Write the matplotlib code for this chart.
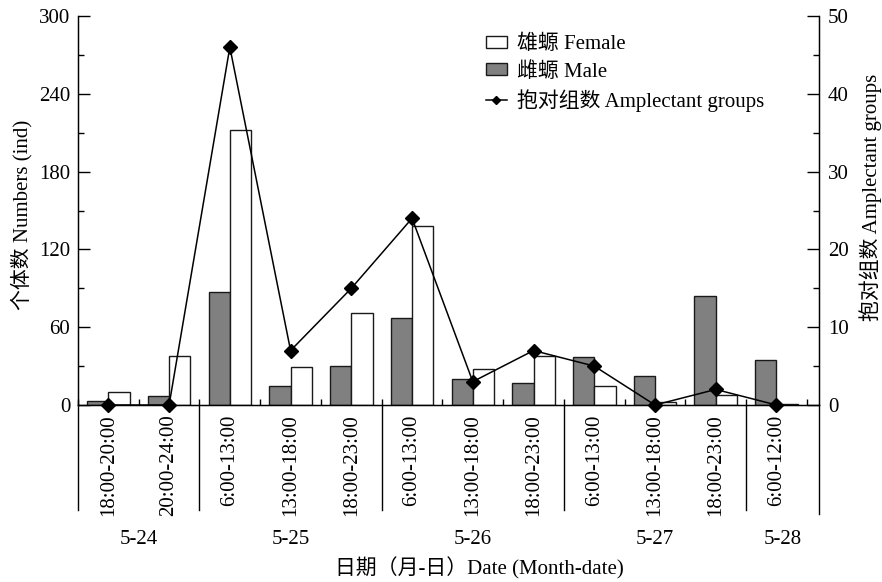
import matplotlib
matplotlib.use('Agg')
import matplotlib.pyplot as plt
from matplotlib.ticker import MultipleLocator, FixedLocator
from matplotlib.patches import Patch
from matplotlib.lines import Line2D
import numpy as np

# ---------------- data ----------------
categories = ['18:00-20:00', '20:00-24:00',
              '6:00-13:00', '13:00-18:00', '18:00-23:00',
              '6:00-13:00', '13:00-18:00', '18:00-23:00',
              '6:00-13:00', '13:00-18:00', '18:00-23:00',
              '6:00-12:00']
dates = ['5-24', '5-25', '5-26', '5-27', '5-28']
day_sizes = [2, 3, 3, 3, 1]
male = [3, 7, 87, 15, 30, 67, 20, 17, 37, 22, 84, 35]          # grey bars
female = [10, 38, 212, 29, 71, 138, 28, 38, 15, 2, 8, 1]        # white bars
amplectant = [0, 0, 46, 7, 15, 24, 3, 7, 5, 0, 2, 0]            # line (right axis)

label_female = '雄螈 Female'
label_male = '雌螈 Male'
label_amp = '抱对组数 Amplectant groups'
ylabel_left = '个体数 Numbers (ind)'
ylabel_right = '抱对组数 Amplectant groups'
xlabel = '日期（月-日）Date (Month-date)'

# ---------------- style ----------------
plt.rcParams['font.family'] = ['Liberation Serif', 'Noto Sans CJK SC']
plt.rcParams['font.size'] = 15
GREY = '#808080'
EDGE = '#1a1a1a'

W, H = 882, 582
fig = plt.figure(figsize=(W / 100, H / 100), dpi=100)
ax = fig.add_axes([78 / W, (H - 405) / H, (819 - 78) / W, (405 - 16) / H])

x = np.arange(len(categories))
bw = 0.35
ax.bar(x - bw / 2, male, bw, color=GREY, edgecolor=EDGE, linewidth=1, zorder=2)
ax.bar(x + bw / 2, female, bw, color='white', edgecolor=EDGE, linewidth=1, zorder=2)

xmax = len(categories) - 0.5 + 0.2
ax.set_xlim(-0.5, xmax)
ax.set_ylim(0, 300)
ax.yaxis.set_major_locator(MultipleLocator(60))
ax.yaxis.set_minor_locator(MultipleLocator(30))
ax.tick_params(axis='y', which='major', direction='in', length=8.6, width=1, pad=5.5)
ax.tick_params(axis='y', which='minor', direction='in', length=4.5, width=1)

# x ticks: labels at category centers (no tick), boundary ticks inward
ax.xaxis.set_major_locator(FixedLocator(x))
ax.set_xticklabels(categories, rotation=90, va='top', ha='center')
ax.tick_params(axis='x', which='major', length=0, pad=7)
ax.xaxis.set_minor_locator(FixedLocator(np.arange(len(categories) + 1) - 0.5))
ax.tick_params(axis='x', which='minor', direction='in', length=4.3, width=1)

ax.spines['top'].set_visible(False)
for s in ['left', 'bottom', 'right']:
    ax.spines[s].set_linewidth(1)

ax.set_ylabel(ylabel_left)
ax.yaxis.set_label_coords(-0.062, 0.488)

# day separators extending below the axis
trans = ax.get_xaxis_transform()
starts = np.concatenate([[0], np.cumsum(day_sizes)[:-1]]) - 0.5
ends = starts + np.array(day_sizes)
ends[-1] = xmax
for b in starts:
    ax.plot([b, b], [0, -0.27], transform=trans, clip_on=False, color='black', lw=1)
ax.plot([1, 1], [0, -0.28], transform=ax.transAxes, clip_on=False, color='black', lw=1)
for d, s, e in zip(dates, starts, ends):
    ax.text((s + e) / 2, -0.345, d, transform=trans, ha='center', va='center')

fig.text(479 / W, 1 - 568 / H, xlabel, ha='center', va='center')

# right axis
ax2 = ax.twinx()
ax2.set_ylim(0, 50)
ax2.yaxis.set_major_locator(MultipleLocator(10))
ax2.yaxis.set_minor_locator(MultipleLocator(5))
ax2.tick_params(axis='y', which='major', direction='in', length=8.6, width=1, pad=6.5)
ax2.tick_params(axis='y', which='minor', direction='in', length=4.5, width=1)
ax2.spines['top'].set_visible(False)
ax2.plot(x, amplectant, color='black', lw=1.1, marker='D', ms=6.8, clip_on=False, zorder=5)
ax2.set_ylabel(ylabel_right)
ax2.yaxis.set_label_coords(1.054, 0.535)

handles = [Patch(facecolor='white', edgecolor=EDGE, linewidth=1),
           Patch(facecolor=GREY, edgecolor=EDGE, linewidth=1),
           Line2D([], [], color='black', lw=1.1, marker='D', ms=4)]
ax2.legend(handles, [label_female, label_male, label_amp], loc='upper left',
           bbox_to_anchor=(486 / W, 1 - 35 / H), bbox_transform=fig.transFigure,
           frameon=False, borderpad=0, borderaxespad=0, handlelength=1.0,
           handleheight=0.5, handletextpad=0.5, labelspacing=0.35)

fig.savefig('out.png', dpi=100)
